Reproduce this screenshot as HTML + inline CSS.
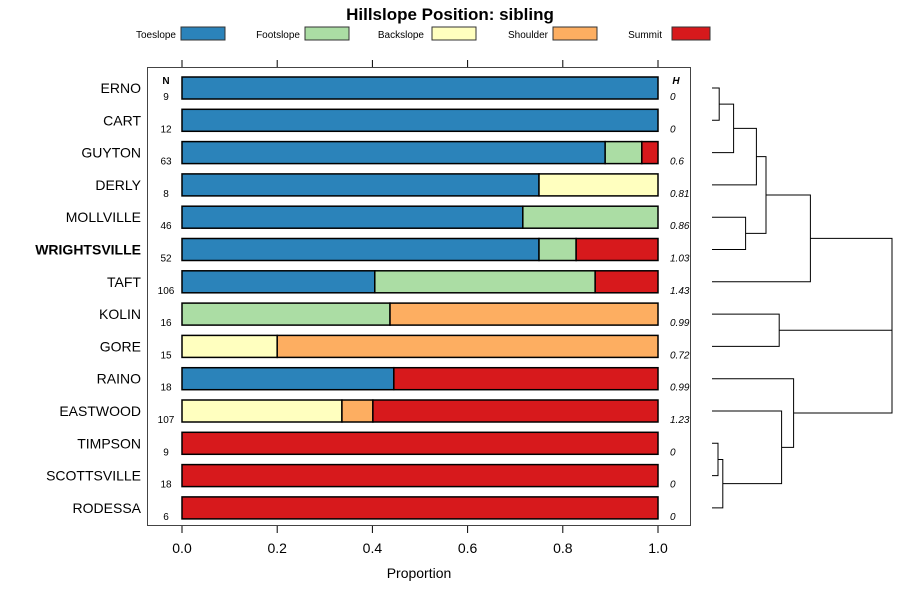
<!DOCTYPE html>
<html><head><meta charset="utf-8"><style>
body{margin:0;background:#fff}
svg{font-family:"Liberation Sans",sans-serif}
</style></head><body>
<svg id="c" width="900" height="600"></svg>
<script>
const names=["ERNO","CART","GUYTON","DERLY","MOLLVILLE","WRIGHTSVILLE","TAFT","KOLIN","GORE","RAINO","EASTWOOD","TIMPSON","SCOTTSVILLE","RODESSA"];
const nVals=[9,12,63,8,46,52,106,16,15,18,107,9,18,6];
const hVals=["0","0","0.6","0.81","0.86","1.03","1.43","0.99","0.72","0.99","1.23","0","0","0"];
const toeslope=[1,1,0.889,0.75,0.716,0.75,0.405,0,0,0.445,0,0,0,0];
const footslope=[0,0,0.077,0,0.284,0.078,0.463,0.437,0,0,0,0,0,0];
const backslope=[0,0,0,0.25,0,0,0,0,0.2,0,0.336,0,0,0];
const shoulder=[0,0,0,0,0,0,0,0.563,0.8,0,0.065,0,0,0];
const summit=[0,0,0.034,0,0,0.172,0.132,0,0,0.555,0.599,1,1,1];
const classes=["Toeslope","Footslope","Backslope","Shoulder","Summit"];
const colors=["#2b83ba","#abdda4","#ffffbf","#fdae61","#d7191c"];
const ticks=[0,0.2,0.4,0.6,0.8,1.0];
// dendrogram merges: [leftNode,rightNode,height] ; leaves 0..13, internal 14+
const merges=[[0,1,0.06],[14,2,0.18],[15,3,0.37],[4,5,0.28],[16,17,0.45],[18,6,0.82],[7,8,0.56],[11,12,0.05],[21,13,0.09],[10,22,0.58],[9,23,0.68],[19,20,1.5],[25,24,1.5]];
const svg=document.getElementById('c');const NS="http://www.w3.org/2000/svg";
function el(t,a,txt){const e=document.createElementNS(NS,t);for(const k in a)e.setAttribute(k,a[k]);if(txt!=null)e.textContent=txt;svg.appendChild(e);return e;}
const x=v=>182+v*476;const y=i=>88+i*32.3;
let e=el('text',{x:450,y:20,'text-anchor':'middle','font-size':17,'font-weight':'bold'},'Hillslope Position: sibling');

const lx=[176,300,424,548,662];
const sx=[181,305,432,553,672];
classes.forEach((c,k)=>{
 let t=el('text',{x:lx[k],y:38,'text-anchor':'end','font-size':10},c);
 
 let r=el('rect',{x:sx[k],y:27,width:k==4?38:44,height:13,fill:colors[k],stroke:'#333','stroke-width':1});
 
});
e=el('rect',{x:147.5,y:67.5,width:543,height:458,fill:'none',stroke:'#444'});

ticks.forEach(v=>{
 el('line',{x1:x(v),x2:x(v),y1:60,y2:67,stroke:'#000'});
 el('line',{x1:x(v),x2:x(v),y1:526,y2:533,stroke:'#000'});
 let t=el('text',{x:x(v),y:553,'text-anchor':'middle','font-size':14},v.toFixed(1));
 
});
e=el('text',{x:419,y:578,'text-anchor':'middle','font-size':14},'Proportion');

e=el('text',{x:166,y:84,'text-anchor':'middle','font-size':10,'font-weight':'bold'},'N');

e=el('text',{x:676,y:84,'text-anchor':'middle','font-size':10,'font-weight':'bold','font-style':'italic'},'H');

const series=[toeslope,footslope,backslope,shoulder,summit];
names.forEach((n,i)=>{
 const cy=y(i);
 let t=el('text',{x:141,y:cy+5,'text-anchor':'end','font-size':14,'font-weight':n==="WRIGHTSVILLE"?'bold':'normal'},n);
 
 t=el('text',{x:166,y:cy+12,'text-anchor':'middle','font-size':10},nVals[i]);
 
 t=el('text',{x:670,y:cy+12,'font-size':10,'font-style':'italic'},hVals[i]);
 
 let cum=0;
 series.forEach((s,k)=>{
  if(s[i]>0){
   let r=el('rect',{x:x(cum),y:cy-11,width:x(cum+s[i])-x(cum),height:22,fill:colors[k],stroke:'#000','stroke-width':1.5});
   
   cum+=s[i];
  }
 });
});
// dendrogram
const dx=h=>712+h*120;
const nodes=names.map((n,i)=>({y:y(i),x:712}));
merges.forEach(m=>{
 const a=nodes[m[0]],b=nodes[m[1]],hx=dx(m[2]);
 let p=el('path',{d:`M${a.x},${a.y}H${hx}V${b.y}H${b.x}`,fill:'none',stroke:'#000','stroke-width':1});
 
 nodes.push({x:hx,y:(a.y+b.y)/2});
});
</script>
</body></html>
